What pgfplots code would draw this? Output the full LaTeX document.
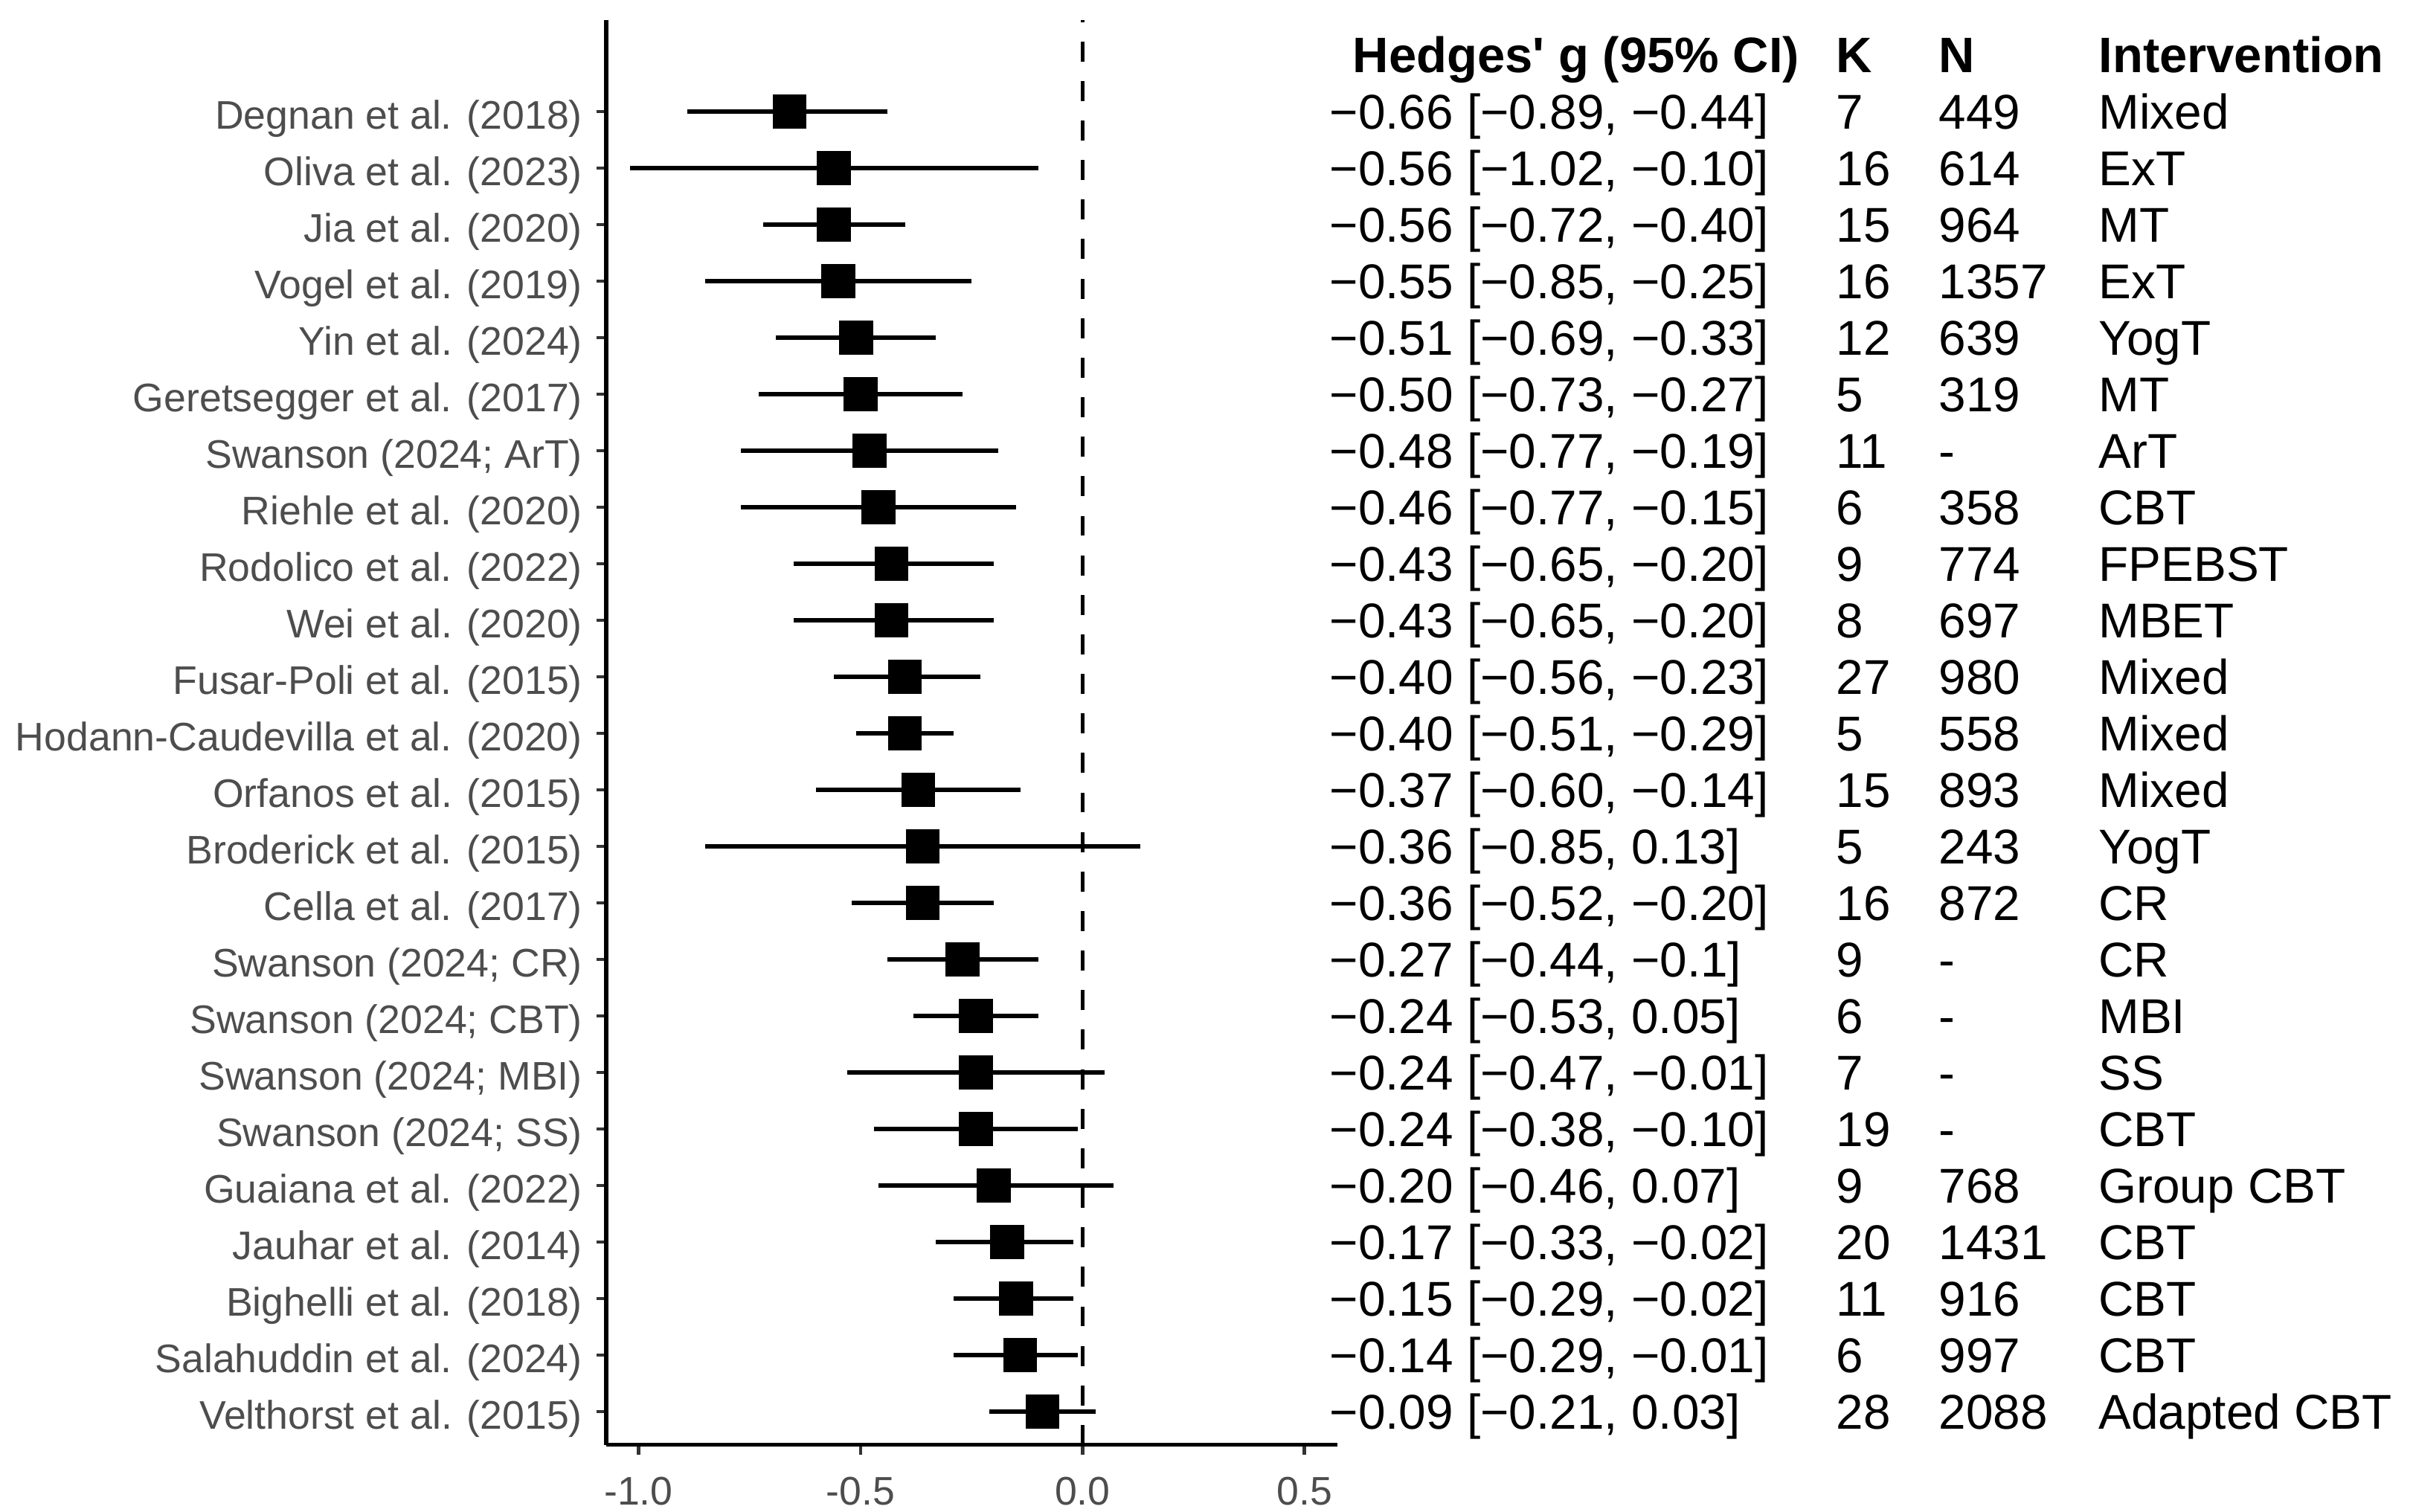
\documentclass[border=0pt]{standalone}
\usepackage{fontspec}
\setmainfont{Liberation Sans}
\usepackage{pgfplots}
\pgfplotsset{compat=1.18}
\usepackage{pgfplotstable}
\definecolor{gray30}{HTML}{4D4D4D}
\definecolor{gray20}{HTML}{333333}

% y = row position (Degnan at top = 24); lo/hi = interval as drawn
\pgfplotstableread[col sep=ampersand,row sep=\\]{
y&g&lo&hi&study&ci&k&n&intv\\
24&-0.66&-0.89&-0.44&Degnan et al. (2018)&−0.66 [−0.89, −0.44]&7&449&Mixed\\
23&-0.56&-1.02&-0.10&Oliva et al. (2023)&−0.56 [−1.02, −0.10]&16&614&ExT\\
22&-0.56&-0.72&-0.40&Jia et al. (2020)&−0.56 [−0.72, −0.40]&15&964&MT\\
21&-0.55&-0.85&-0.25&Vogel et al. (2019)&−0.55 [−0.85, −0.25]&16&1357&ExT\\
20&-0.51&-0.69&-0.33&Yin et al. (2024)&−0.51 [−0.69, −0.33]&12&639&YogT\\
19&-0.50&-0.73&-0.27&Geretsegger et al. (2017)&−0.50 [−0.73, −0.27]&5&319&MT\\
18&-0.48&-0.77&-0.19&Swanson (2024; ArT)&−0.48 [−0.77, −0.19]&11&-&ArT\\
17&-0.46&-0.77&-0.15&Riehle et al. (2020)&−0.46 [−0.77, −0.15]&6&358&CBT\\
16&-0.43&-0.65&-0.20&Rodolico et al. (2022)&−0.43 [−0.65, −0.20]&9&774&FPEBST\\
15&-0.43&-0.65&-0.20&Wei et al. (2020)&−0.43 [−0.65, −0.20]&8&697&MBET\\
14&-0.40&-0.56&-0.23&Fusar-Poli et al. (2015)&−0.40 [−0.56, −0.23]&27&980&Mixed\\
13&-0.40&-0.51&-0.29&Hodann-Caudevilla et al. (2020)&−0.40 [−0.51, −0.29]&5&558&Mixed\\
12&-0.37&-0.60&-0.14&Orfanos et al. (2015)&−0.37 [−0.60, −0.14]&15&893&Mixed\\
11&-0.36&-0.85&0.13&Broderick et al. (2015)&−0.36 [−0.85, 0.13]&5&243&YogT\\
10&-0.36&-0.52&-0.20&Cella et al. (2017)&−0.36 [−0.52, −0.20]&16&872&CR\\
9&-0.27&-0.44&-0.10&Swanson (2024; CR)&−0.27 [−0.44, −0.1]&9&-&CR\\
8&-0.24&-0.38&-0.10&Swanson (2024; CBT)&−0.24 [−0.53, 0.05]&6&-&MBI\\
7&-0.24&-0.53&0.05&Swanson (2024; MBI)&−0.24 [−0.47, −0.01]&7&-&SS\\
6&-0.24&-0.47&-0.01&Swanson (2024; SS)&−0.24 [−0.38, −0.10]&19&-&CBT\\
5&-0.20&-0.46&0.07&Guaiana et al. (2022)&−0.20 [−0.46, 0.07]&9&768&Group CBT\\
4&-0.17&-0.33&-0.02&Jauhar et al. (2014)&−0.17 [−0.33, −0.02]&20&1431&CBT\\
3&-0.15&-0.29&-0.02&Bighelli et al. (2018)&−0.15 [−0.29, −0.02]&11&916&CBT\\
2&-0.14&-0.29&-0.01&Salahuddin et al. (2024)&−0.14 [−0.29, −0.01]&6&997&CBT\\
1&-0.09&-0.21&0.03&Velthorst et al. (2015)&−0.09 [−0.21, 0.03]&28&2088&Adapted CBT\\
}\forest

\pgfplotsset{
  tabtext/.style={only marks, mark=none, nodes near coords,
    point meta=explicit symbolic,
    every node near coord/.append style={anchor=west, inner sep=0pt,
      text height=0.716em, text depth=0pt, text=black,
      font=\fontsize{10.05}{12}\selectfont}},
}

\begin{document}
\begin{tikzpicture}
\useasboundingbox (-124.2bp,-13.7bp) rectangle (370.2bp,296.1bp);
\begin{axis}[
  at={(0,0)}, anchor=south west,
  scale only axis, width=149.8bp, height=292bp,
  xmin=-1.073, xmax=0.574, ymin=0.41, ymax=25.62,
  clip=false,
  axis x line*=bottom, axis y line*=left,
  axis line style={line width=0.8bp, black},
  xtick={-1,-0.5,0,0.5}, xticklabels={-1.0,-0.5,0.0,0.5},
  ytick={24,23,...,1}, yticklabels from table={\forest}{study},
  tick align=outside, major tick length=2bp,
  tick style={line width=0.7bp, gray20},
  tick label style={font=\fontsize{8.2}{9}\selectfont, text=gray30,
    inner sep=0pt, text height=0.716em, text depth=0pt},
  yticklabel style={xshift=-2.7bp},
  xticklabel style={yshift=-2.9bp},
]
  \addplot[black, line width=0.7bp, dash pattern=on 4.1bp off 4bp]
    coordinates {(0,0.41) (0,25.62)};

  \addplot[only marks, mark=square*, mark size=3.27bp,
    mark options={draw=none, fill=black},
    error bars/.cd, x dir=both, x explicit, error mark=none,
    error bar style={line width=0.95bp, black}]
    table[x=g, y=y, x error minus expr=\thisrow{g}-\thisrow{lo},
      x error plus expr=\thisrow{hi}-\thisrow{g}] {\forest};

  % text columns
  \addplot[tabtext] table[x expr=0.555, y=y, meta=ci] {\forest};
  \addplot[tabtext] table[x expr=1.696, y=y, meta=k] {\forest};
  \addplot[tabtext] table[x expr=1.927, y=y, meta=n] {\forest};
  \addplot[tabtext] table[x expr=2.287, y=y, meta=intv] {\forest};

  \begin{scope}[every node/.style={anchor=west, inner sep=0pt,
      text height=0.716em, text depth=0pt,
      font=\fontsize{10.25}{12}\selectfont\bfseries}]
    \node at (axis cs:0.607,25) {Hedges\textquotesingle\ g (95\% CI)};
    \node at (axis cs:1.696,25) {K};
    \node at (axis cs:1.927,25) {N};
    \node at (axis cs:2.287,25) {Intervention};
  \end{scope}
\end{axis}
\end{tikzpicture}
\end{document}
